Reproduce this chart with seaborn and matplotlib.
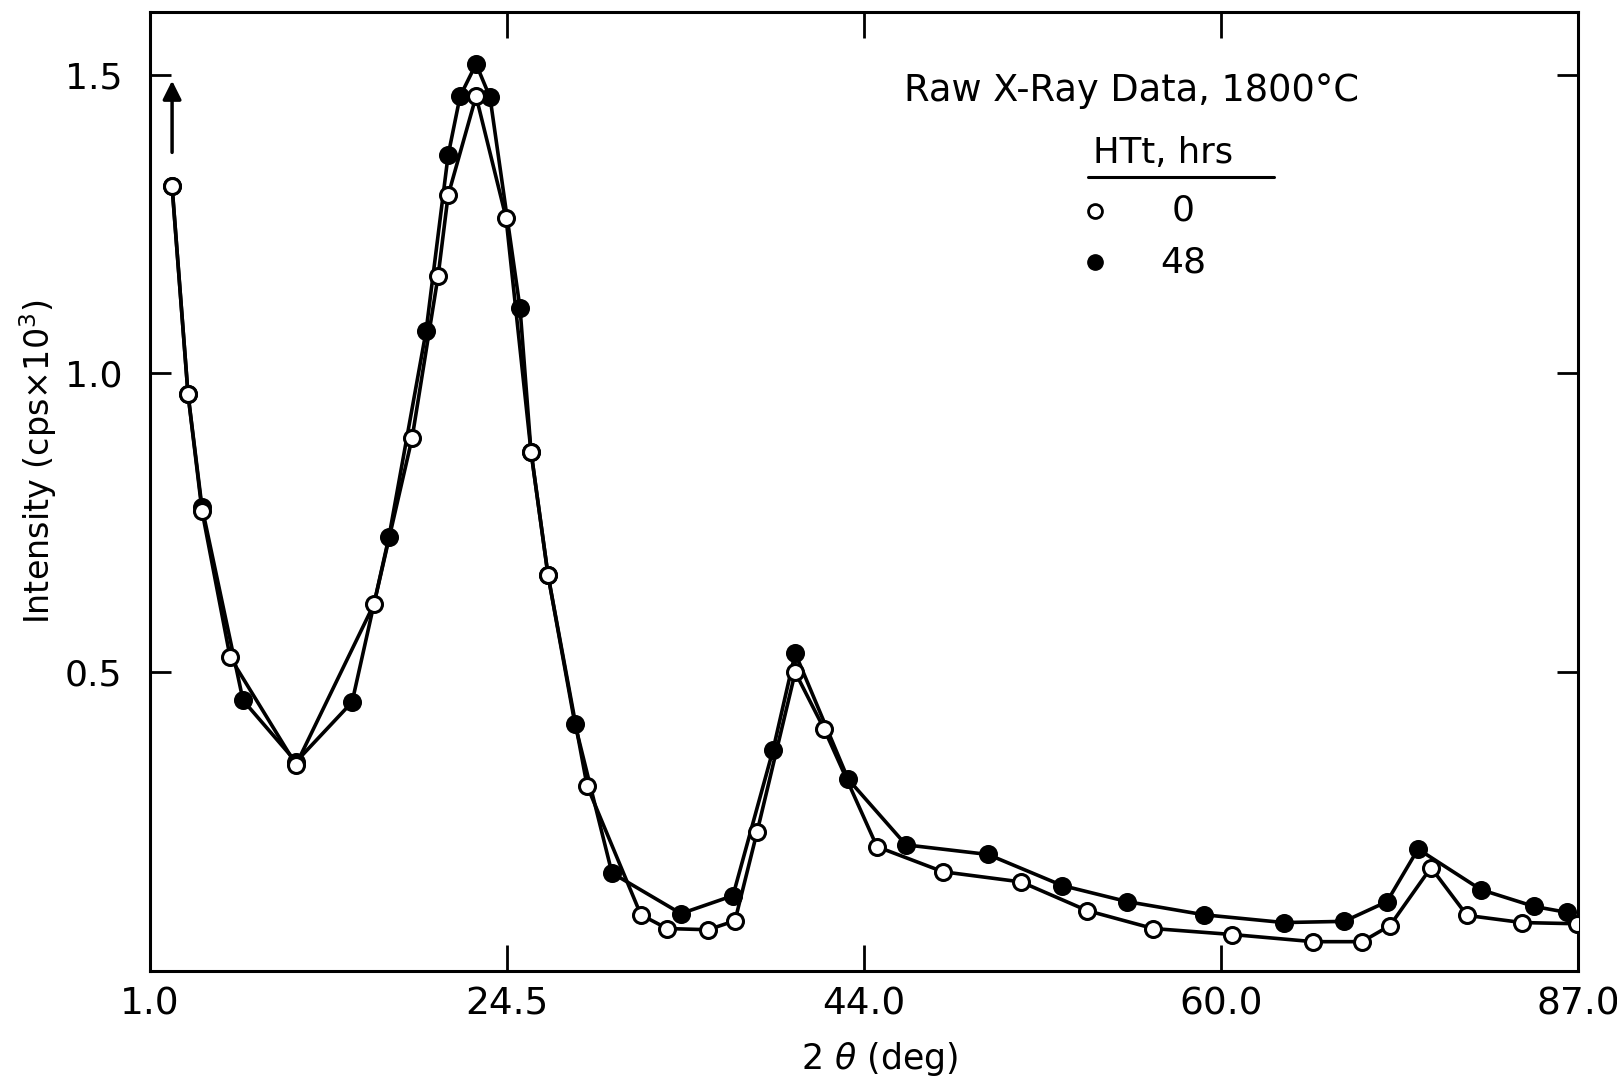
import numpy as np
import pandas as pd
import matplotlib
matplotlib.use("Agg")
import matplotlib.pyplot as plt
import seaborn as sns

# ---- data -------------------------------------------------------------
# the 2-theta axis of the original is not linear: its labelled ticks are equally spaced
x_tick_values = [1.0, 24.5, 44.0, 60.0, 87.0]
x_tick_labels = ["1.0", "24.5", "44.0", "60.0", "87.0"]
y_tick_values = [0.5, 1.0, 1.5]
y_tick_labels = ["0.5", "1.0", "1.5"]

series_names = ["0", "48"]  # HTt, hrs

two_theta_0h = [2.45, 3.50, 4.42, 6.27, 10.61, 15.74, 18.25, 19.96, 20.62, 22.46,
                24.43, 25.81, 26.74, 28.87, 31.81, 33.24, 35.48, 36.95, 38.16, 40.24,
                41.82, 44.58, 47.54, 51.04, 54.00, 56.96, 60.84, 66.97, 70.67, 72.78,
                75.88, 78.60, 82.76, 86.92]
intensity_0h = [1.313, 0.965, 0.770, 0.525, 0.345, 0.614, 0.892, 1.163, 1.298, 1.464,
                1.261, 0.869, 0.662, 0.310, 0.094, 0.071, 0.069, 0.084, 0.233, 0.500,
                0.405, 0.208, 0.166, 0.149, 0.101, 0.071, 0.061, 0.049, 0.049, 0.076,
                0.173, 0.093, 0.081, 0.079]

two_theta_48h = [2.45, 3.50, 4.42, 7.12, 10.61, 14.30, 16.73, 19.17, 20.62, 21.41,
                 22.46, 23.38, 25.21, 25.81, 26.74, 28.21, 30.23, 34.00, 36.84, 39.03,
                 40.24, 43.13, 45.88, 49.55, 52.88, 55.80, 59.24, 64.76, 69.31, 72.55,
                 74.90, 79.66, 83.67, 86.17]
intensity_48h = [1.313, 0.965, 0.776, 0.453, 0.350, 0.450, 0.727, 1.071, 1.365, 1.464,
                 1.518, 1.462, 1.109, 0.869, 0.662, 0.413, 0.164, 0.096, 0.126, 0.370,
                 0.532, 0.321, 0.211, 0.195, 0.143, 0.116, 0.094, 0.081, 0.083, 0.116,
                 0.204, 0.136, 0.108, 0.098]

df = pd.concat([
    pd.DataFrame({"two_theta": two_theta_0h, "intensity": intensity_0h, "HTt": series_names[0]}),
    pd.DataFrame({"two_theta": two_theta_48h, "intensity": intensity_48h, "HTt": series_names[1]}),
], ignore_index=True)

# ---- style ------------------------------------------------------------
sns.set_theme(style="ticks")
plt.rcParams["font.family"] = ["DejaVu Sans"]
plt.rcParams["axes.linewidth"] = 2.2
plt.rcParams["axes.edgecolor"] = "black"
plt.rcParams["axes.labelcolor"] = "black"
plt.rcParams["text.color"] = "black"
plt.rcParams["xtick.color"] = "black"
plt.rcParams["ytick.color"] = "black"

fig = plt.figure(figsize=(16.17, 10.78), dpi=100)
ax = fig.add_axes([0.0928, 0.0993, 0.8831, 0.8896])

# piecewise-linear scale so that the labelled ticks are equally spaced
_pos = np.arange(len(x_tick_values), dtype=float)
def _fwd(x):
    return np.interp(x, x_tick_values, _pos)
def _inv(p):
    return np.interp(p, _pos, x_tick_values)
ax.set_xscale("function", functions=(_fwd, _inv))

common = dict(color="black", linewidth=2.6, marker="o", markersize=11.5,
              markeredgewidth=2.2, markeredgecolor="black",
              sort=False, estimator=None, legend=False, ax=ax)
sns.lineplot(data=df[df["HTt"] == "48"], x="two_theta", y="intensity",
             markerfacecolor="black", zorder=3, **common)
sns.lineplot(data=df[df["HTt"] == "0"], x="two_theta", y="intensity",
             markerfacecolor="white", zorder=4, **common)

ax.set_xlim(x_tick_values[0], x_tick_values[-1])
ax.set_ylim(0, 1.605)
ax.set_xticks(x_tick_values)
ax.set_xticklabels(x_tick_labels)
ax.set_yticks(y_tick_values)
ax.set_yticklabels(y_tick_labels)
ax.minorticks_off()
ax.tick_params(axis="both", which="major", direction="in", top=True, right=True,
               width=2.0, color="black", labelcolor="black")
ax.tick_params(axis="x", length=19, pad=11, labelsize=27)
ax.tick_params(axis="y", length=15, pad=20, labelsize=26)

ax.set_xlabel(r"2 $\theta$ (deg)", fontsize=25, color="black")
ax.set_ylabel(r"Intensity (cps$\times$10$^3$)", fontsize=24, color="black")
ax.xaxis.set_label_coords(0.511, -0.072)
ax.yaxis.set_label_coords(-0.064, 0.531)

# off-scale arrow above the first point
ax.annotate("", xy=(2.45, 1.49), xytext=(2.45, 1.37),
            arrowprops=dict(arrowstyle="-|>", color="black", lw=2.5,
                            mutation_scale=28, shrinkA=0, shrinkB=0))

# annotation and hand-made key
tr = ax.transAxes
ax.text(0.528, 0.918, "Raw X-Ray Data, 1800°C", transform=tr,
        ha="left", va="center", fontsize=26.5)
ax.text(0.660, 0.853, "HTt, hrs", transform=tr, ha="left", va="center", fontsize=25.5)
ax.plot([0.657, 0.787], [0.828, 0.828], transform=tr, color="black", lw=2.2,
        clip_on=False)
ax.plot([0.662], [0.7925], transform=tr, marker="o", markersize=10,
        markerfacecolor="white", markeredgecolor="black", markeredgewidth=2.0,
        linestyle="none")
ax.plot([0.662], [0.739], transform=tr, marker="o", markersize=11,
        markerfacecolor="black", markeredgecolor="black", linestyle="none")
ax.text(0.7234, 0.7925, series_names[0], transform=tr, ha="center", va="center",
        fontsize=26)
ax.text(0.7234, 0.739, series_names[1], transform=tr, ha="center", va="center",
        fontsize=26)

for s in ax.spines.values():
    s.set_visible(True)
    s.set_color("black")
    s.set_linewidth(2.2)

fig.savefig("out.png", dpi=100, facecolor="white")
